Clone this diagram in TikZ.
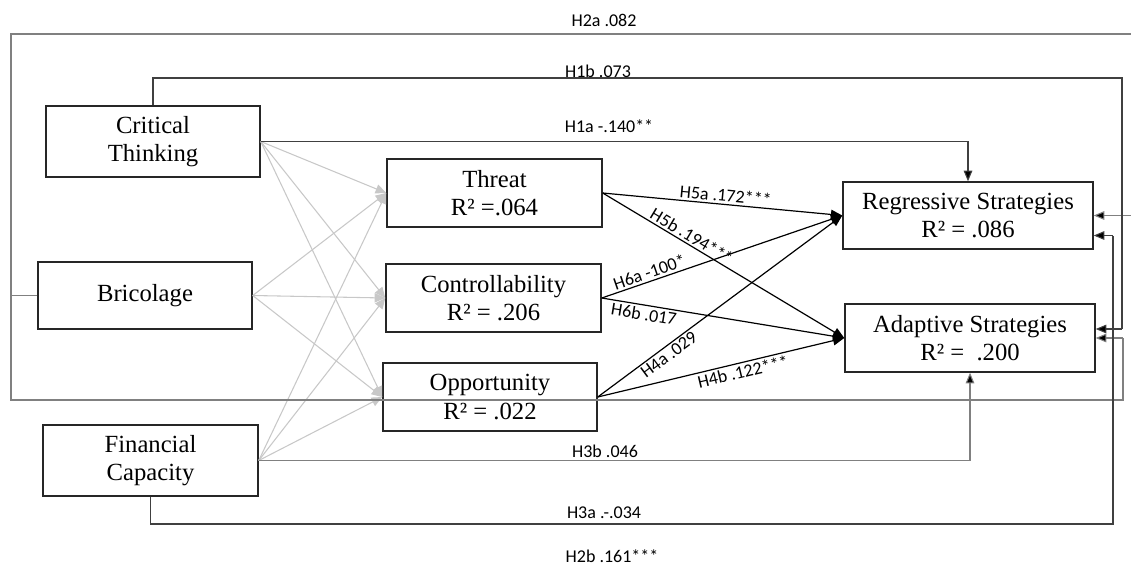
\documentclass[tikz,border=0pt]{standalone}
\usepackage{fontspec}
\setmainfont{Liberation Serif}
\newfontfamily\labfont{Carlito}
\usetikzlibrary{arrows.meta}
\definecolor{fan}{HTML}{C8C8C8}
\definecolor{midgray}{HTML}{808080}
\definecolor{darkline}{HTML}{404040}
\begin{document}
\begin{tikzpicture}[x=0.75pt,y=-0.75pt,
  box/.style={draw=black!85,line width=1.1pt,inner sep=0pt,align=center,
    font=\fontsize{18.5}{21.5}\selectfont},
  lab/.style={font=\labfont\fontsize{13.5}{15}\selectfont,inner sep=1.5pt},
  fanarrow/.style={draw=fan,line width=0.8pt,-{Triangle[length=8pt,width=7pt,fill=fan]}},
  blk/.style={draw=black,line width=0.9pt,-{Triangle[length=8.5pt,width=7pt]}},
  longg/.style={draw=midgray,line width=0.8pt},
  longd/.style={draw=darkline,line width=0.8pt},
  tip/.style={-{Triangle[length=8pt,width=6.5pt,fill=black]}}]
\useasboundingbox (0,0) rectangle (1131,565);

% boxes
\node[box,minimum width=160.5pt,minimum height=53.25pt] (CT) at (153,141.5) {Critical\\Thinking};
\node[box,minimum width=160.5pt,minimum height=50.25pt] (Bric) at (145,295.5) {Bricolage};
\node[box,minimum width=161.25pt,minimum height=53.25pt] (FC) at (150.5,460.5) {Financial\\Capacity};
\node[box,minimum width=161.25pt,minimum height=51pt] (Thr) at (494.5,193) {Threat\\R² =.064};
\node[box,minimum width=161.25pt,minimum height=51pt] (Con) at (493.5,298) {Controllability\\R² = .206};
\node[box,minimum width=160.5pt,minimum height=51pt] (Opp) at (490,397) {Opportunity\\R² = .022};
\node[box,minimum width=187.5pt,minimum height=50.25pt] (Reg) at (968,215.5) {Regressive Strategies\\R² = .086};
\node[box,minimum width=187.5pt,minimum height=51pt] (Ada) at (970,338) {Adaptive Strategies\\R² =\ \ .200};

% gray fan arrows
\foreach \s in {CT,Bric,FC}{
  \foreach \t in {Thr,Con,Opp}{
    \draw[fanarrow] (\s.east) -- (\t.west);
  }
}

% coordinates of the long routes
\coordinate (lt) at (11,34);
\coordinate (rt) at (1136,34);
\coordinate (lb) at (11,400);
\coordinate (rb) at (1123,400);
\coordinate (h1b) at (1122,78);
\coordinate (h3a) at (1113,524);
\coordinate (adaIn) at ([yshift=6.75pt]Ada.east);
\coordinate (regIn) at ([yshift=-15pt]Reg.east);

% H2a and H2b (from Bricolage)
\draw[longg] (Bric.west) -- (Bric.west -| lt) -- (lt) -- (rt) -- (rt |- Reg.east);
\draw[longg,tip] (rt |- Reg.east) -- (Reg.east);
\draw[longg] (Bric.west -| lb) -- (lb) -- (rb) -- (rb |- Ada.east);
\draw[longg,tip] (rb |- Ada.east) -- (Ada.east);

% H1b
\draw[longd] (CT.north) |- (h1b) -- (h1b |- adaIn);
\draw[longd,tip] (h1b |- adaIn) -- (adaIn);

% H1a
\draw[longd,tip] (CT.east) -| (Reg.north);

% H3b
\draw[longg,tip] (FC.east) -| (Ada.south);

% H3a
\draw[longd] (FC.south) |- (h3a) -- (h3a |- regIn);
\draw[longd,tip] (h3a |- regIn) -- (regIn);

% black mediator arrows
\draw[blk] (Thr.east) -- node[lab,sloped,above,pos=0.51] (l5a) {H5a .172***} (Reg.west);
\draw[blk] (Thr.east) -- node[lab,sloped,above,pos=0.35] (l5b) {H5b .194***} (Ada.west);
\draw[blk] (Con.east) -- node[lab,sloped,above,pos=0.21] (l6a) {H6a -100*} (Reg.west);
\draw[blk] (Con.east) -- node[lab,sloped,below,pos=0.18] (l6b) {H6b .017} (Ada.west);
\draw[blk] (Opp.east) -- node[lab,sloped,below,pos=0.27] (l4a) {H4a .029} (Reg.west);
\draw[blk] (Opp.east) -- node[lab,sloped,below,pos=0.58] (l4b) {H4b .122***} (Ada.west);

% long-route labels
\node[lab] (t2a) at (604,20) {H2a .082};
\node[lab] (t1b) at (598,71) {H1b .073};
\node[lab] (t1a) at (609,126) {H1a -.140**};
\node[lab] (t3b) at (605,451) {H3b .046};
\node[lab] (t3a) at (604,513) {H3a .-.034};
\node[lab] (t2b) at (612,556) {H2b .161***};
\end{tikzpicture}
\end{document}
